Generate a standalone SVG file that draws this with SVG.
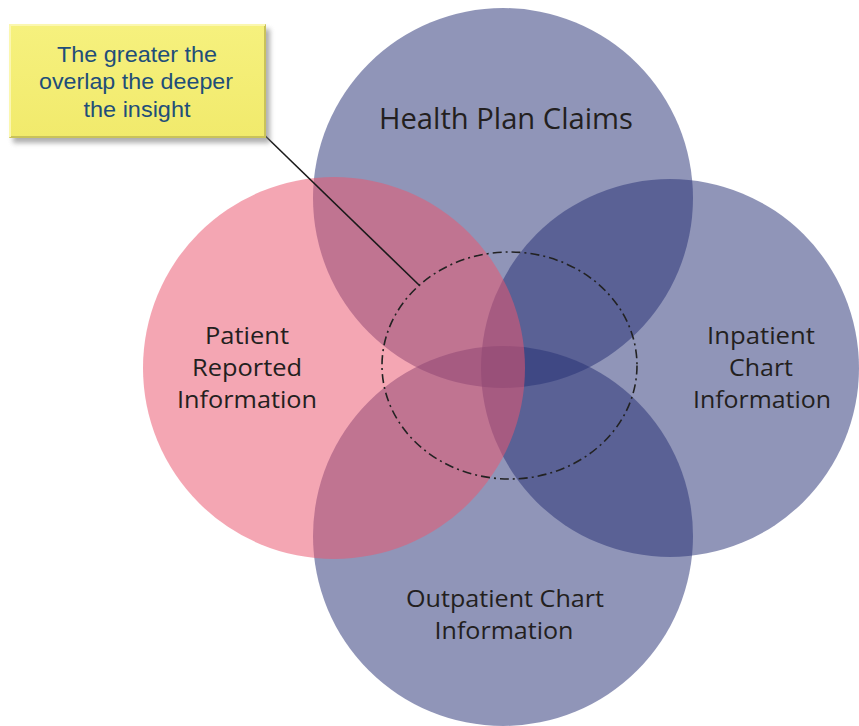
<svg xmlns="http://www.w3.org/2000/svg" width="859" height="726" viewBox="0 0 859 726">
  <defs>
    <linearGradient id="yel" x1="0" y1="0" x2="0" y2="1">
      <stop offset="0" stop-color="#f6f17e"/>
      <stop offset="1" stop-color="#f1ea6c"/>
    </linearGradient>
    <filter id="shadow" x="-10%" y="-10%" width="130%" height="140%">
      <feGaussianBlur stdDeviation="2.5"/>
    </filter>
  </defs>
  <style>
    .blue { fill: rgb(39,49,117); fill-opacity: 0.515; }
    .pink { fill: rgb(235,86,112); fill-opacity: 0.53; }
    .lbl { font-family: "Open Sans", "Noto Sans", sans-serif; fill: #231f20; text-anchor: middle; }
    .side { font-size: 23.5px; }
    .top { font-size: 30px; }
    .call { font-family: "Liberation Sans", Arial, sans-serif; font-size: 21.5px; fill: #1f4e79; text-anchor: middle; }
    .conn { stroke: #1a1a1a; stroke-width: 1.6; fill: none; }
    .zone { stroke: #222; stroke-width: 1.6; fill: none; stroke-dasharray: 9 4 2 4; }
  </style>
  <rect width="859" height="726" fill="#ffffff"/>

  <g id="health-plan-claims">
    <circle class="blue" cx="503" cy="198" r="190"/>
  </g>
  <g id="inpatient-chart">
    <circle class="blue" cx="670" cy="368" r="189"/>
  </g>
  <g id="outpatient-chart">
    <circle class="blue" cx="503" cy="536" r="190"/>
  </g>
  <g id="patient-reported">
    <circle class="pink" cx="334" cy="368" r="191"/>
  </g>

  <g id="labels">
    <text class="lbl top" x="506" y="129" textLength="254" lengthAdjust="spacingAndGlyphs">Health Plan Claims</text>
    <text class="lbl side" x="761" y="344" textLength="108" lengthAdjust="spacingAndGlyphs">Inpatient</text>
    <text class="lbl side" x="761" y="376" textLength="64" lengthAdjust="spacingAndGlyphs">Chart</text>
    <text class="lbl side" x="762" y="408" textLength="138" lengthAdjust="spacingAndGlyphs">Information</text>
    <text class="lbl side" x="247" y="344" textLength="84" lengthAdjust="spacingAndGlyphs">Patient</text>
    <text class="lbl side" x="247" y="376" textLength="110" lengthAdjust="spacingAndGlyphs">Reported</text>
    <text class="lbl side" x="247" y="408" textLength="140" lengthAdjust="spacingAndGlyphs">Information</text>
    <text class="lbl side" x="505" y="607" textLength="198" lengthAdjust="spacingAndGlyphs">Outpatient Chart</text>
    <text class="lbl side" x="504" y="639" textLength="139" lengthAdjust="spacingAndGlyphs">Information</text>
  </g>

  <g id="overlap-zone">
    <ellipse class="zone" cx="509.5" cy="365.5" rx="127.5" ry="113.5"/>
  </g>

  <g id="connectors">
    <line class="conn" x1="254" y1="125" x2="419" y2="285"/>
  </g>

  <g id="callout">
    <rect x="13" y="29" width="257" height="114" fill="#7a7a7a" opacity="0.6" filter="url(#shadow)"/>
    <rect x="9" y="24" width="257" height="114" fill="url(#yel)"/>
    <rect x="9.5" y="24.5" width="256" height="113" fill="none" stroke="#d9d37a" stroke-width="1"/>
    <path d="M10 137 L265 137 L265 25" fill="none" stroke="#c9c25a" stroke-width="2"/>
    <path d="M10 137 L10 25 L265 25" fill="none" stroke="#fbf7b0" stroke-width="2"/>
    <text class="call" x="137" y="62" textLength="160" lengthAdjust="spacingAndGlyphs">The greater the</text>
    <text class="call" x="136" y="89" textLength="194" lengthAdjust="spacingAndGlyphs">overlap the deeper</text>
    <text class="call" x="137" y="117" textLength="107" lengthAdjust="spacingAndGlyphs">the insight</text>
  </g>
</svg>
